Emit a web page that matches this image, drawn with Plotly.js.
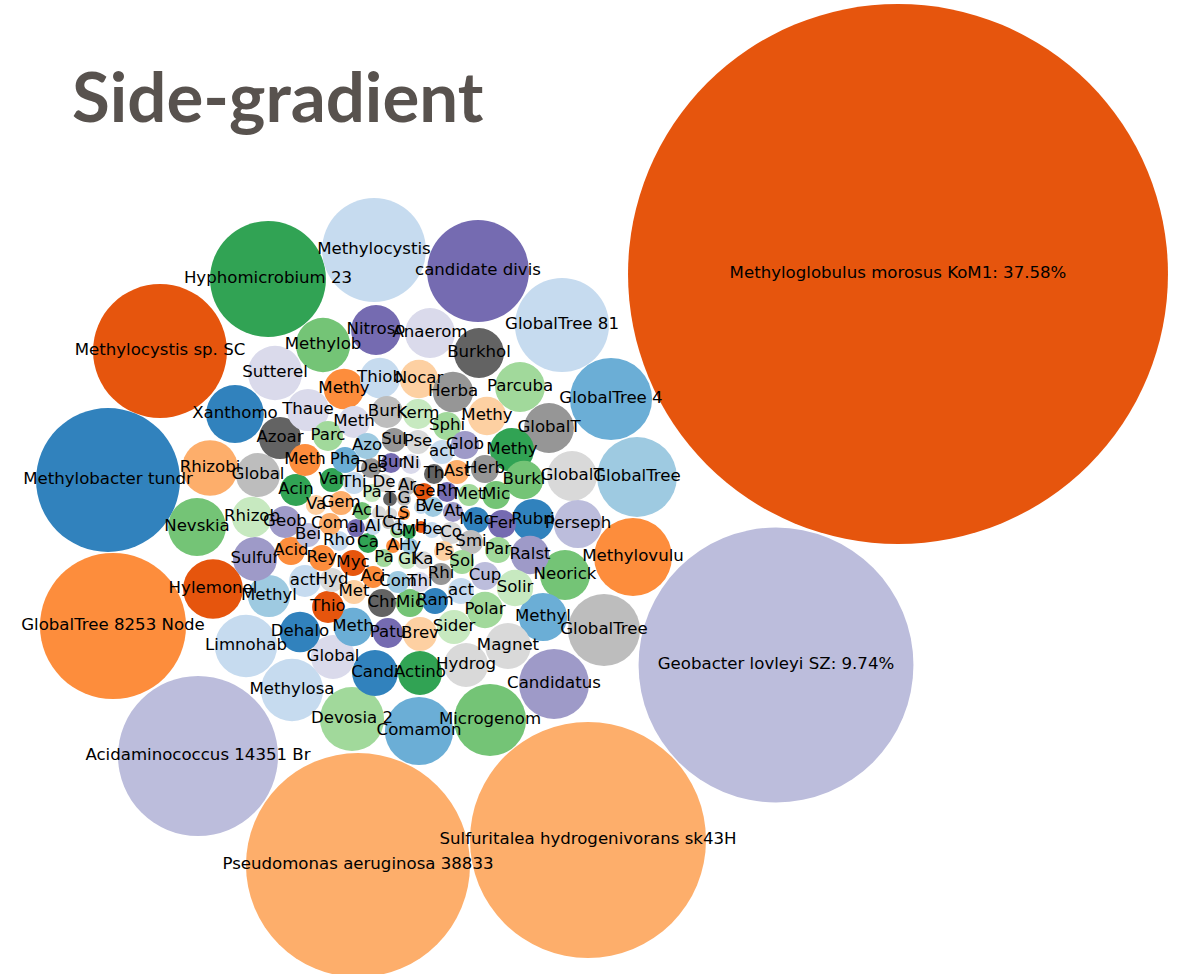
<!DOCTYPE html>
<html><head><meta charset="utf-8">
<script src="https://cdn.plot.ly/plotly-3.0.1.min.js"></script>
<style>html,body{margin:0;padding:0;background:#fff;} #chart{width:1181px;height:974px;}</style>
</head><body><div id="chart"></div>
<script>
// d3 category20c palette
const palette = ["#3182bd","#6baed6","#9ecae1","#c6dbef","#e6550d","#fd8d3c","#fdae6b","#fdd0a2",
  "#31a354","#74c476","#a1d99b","#c7e9c0","#756bb1","#9e9ac8","#bcbddc","#dadaeb",
  "#636363","#969696","#bdbdbd","#d9d9d9"];

const labels = ["Methyloglobulus morosus KoM1: 37.58%","Geobacter lovleyi SZ: 9.74%","Sulfuritalea hydrogenivorans sk43H",
  "Pseudomonas aeruginosa 38833","Acidaminococcus 14351 Br","GlobalTree 8253 Node","Methylobacter tundr",
  "Methylocystis sp. SC","Hyphomicrobium 23","Methylocystis","candidate divis","GlobalTree 81","GlobalTree 4",
  "GlobalTree","Methylovulu","GlobalTree","Candidatus","Microgenom","Comamon","Devosia 2","Methylosa","Limnohab",
  "Hylemonel","Nevskia","Rhizobi","Xanthomo","Sutterel","Methylob","Nitroso","Anaerom","Burkhol","Parcuba",
  "GlobalT","GlobalT","Perseph","Neorick","Methyl","Magnet","Hydrog","Actino","Candi","Global","Dehalo","Methyl",
  "Sulfur","Rhizob","Global","Azoar","Thaue","Methy","Thiob","Nocar","Herba","Methy","Methy","Burkl","Rubri",
  "Ralst","Solir","Polar","Sider","Brev","Patu","Meth","Thio","acti","Acid","Geob","Acin","Meth","Parc","Meth",
  "Burk","Kerm","Sphi","Glob","act","Herb","Ast","Th","Mic","Met","Rh","Ge","Ve","At","Mac","Fer","Par","Smi",
  "Co","Ps","Sol","Rhi","Cup","act","Ram","Mic","Chr","Met","Hyd","Aci","Com","Thi","Myc","Rey","Rho","Ca",
  "Pa","Gl","Ka","A","Hy","G","M","Va","Gem","Ac","L","L","S","B","T","G","Com","Bei","al","Al","C","T","H",
  "be","Des","Bur","Ni","De","Ar","Pa","Var","Thi","Pha","Sul","Pse","Azo"];

const packX = [898,776,588,358,198,113,108,160,268,374,478,562,611,637,633,604,554,490,419,352,292,246,
  213,197,210,235,275,323,376,430,479,520,549,572,578,565,543,508,466,420,375,333,300,269,255,252,258,280,
  308,344,380,419,453,487,512,524,533,530,515,485,454,420,388,353,328,305,291,285,296,305,328,354,387,418,
  447,465,442,485,457,434,496,469,447,424,433,453,476,502,498,471,451,444,462,441,485,461,435,410,382,354,
  332,373,398,420,353,322,339,368,384,407,423,393,410,397,409,316,341,362,379,391,404,421,390,404,330,308,
  356,373,388,399,421,432,371,391,411,384,407,372,332,354,345,394,418,367];

const packY = [274,665,840,865,756,626,480,351,279,250,271,325,399,477,557,630,684,720,731,719,690,646,
  589,527,468,414,373,345,330,333,353,387,428,476,524,575,617,646,665,673,673,657,632,596,559,517,475,438,
  410,389,378,379,392,416,450,480,520,555,588,610,627,634,633,627,607,581,551,522,490,460,436,422,412,414,
  426,445,452,469,472,474,495,495,492,492,507,512,520,524,550,542,533,551,562,574,576,591,601,603,603,592,
  580,577,582,582,563,558,541,543,558,560,560,546,546,531,532,505,503,511,513,514,514,507,499,499,524,535,
  528,527,523,526,527,530,468,463,464,483,486,493,480,483,460,440,442,446];

// relative abundance (%), bubble area proportional to it
const share = [37.58,9.74,7.18,6.47,3.30,2.75,2.67,2.31,1.73,1.39,1.34,1.14,0.87,0.82,0.78,0.67,0.63,0.67,
  0.60,0.53,0.50,0.50,0.46,0.43,0.40,0.43,0.38,0.38,0.32,0.32,0.32,0.32,0.32,0.32,0.30,0.32,0.30,0.27,0.25,
  0.25,0.27,0.25,0.21,0.23,0.25,0.21,0.25,0.23,0.23,0.21,0.21,0.19,0.21,0.19,0.25,0.19,0.23,0.19,0.17,0.17,
  0.15,0.15,0.116,0.19,0.13,0.13,0.101,0.13,0.13,0.13,0.116,0.13,0.13,0.116,0.101,0.101,0.074,0.101,0.074,
  0.052,0.101,0.062,0.052,0.042,0.052,0.052,0.087,0.101,0.087,0.074,0.062,0.052,0.074,0.062,0.101,0.087,
  0.087,0.101,0.101,0.074,0.074,0.062,0.062,0.052,0.087,0.087,0.052,0.052,0.042,0.042,0.042,0.025,0.033,
  0.025,0.025,0.052,0.074,0.042,0.025,0.019,0.019,0.025,0.025,0.025,0.062,0.074,0.042,0.033,0.019,0.019,
  0.019,0.033,0.052,0.052,0.052,0.042,0.042,0.042,0.074,0.062,0.087,0.074,0.074,0.087];

const colorIndex = [4,14,6,6,14,5,0,4,8,3,12,3,1,2,5,18,13,9,1,10,3,3,4,9,6,0,15,9,12,15,16,10,17,19,14,9,
  1,19,19,8,0,15,0,2,13,11,18,16,15,5,3,7,17,7,8,9,0,13,11,10,11,7,12,1,4,3,5,13,8,5,10,15,18,11,10,13,3,
  17,6,16,9,10,12,4,2,13,0,12,10,18,19,7,10,17,14,3,0,9,16,7,19,5,2,15,4,5,3,8,10,11,19,5,2,10,8,7,6,9,19,
  19,5,3,16,18,6,14,12,3,18,3,4,3,17,12,15,19,18,11,8,3,1,17,19,2];

const PX_PER_SQRT_PCT = 44.04;

const trace = {
  type: "scatter",
  mode: "markers+text",
  x: packX,
  y: packY,
  text: labels,
  textposition: "middle center",
  textfont: {family: "DejaVu Sans", size: 16.6, color: "#000000"},
  marker: {
    size: share.map(v => 2 * PX_PER_SQRT_PCT * Math.sqrt(v)),
    sizemode: "diameter",
    color: colorIndex.map(i => palette[i]),
    opacity: 1,
    line: {width: 0}
  },
  hoverinfo: "skip",
  cliponaxis: false
};

const layout = {
  width: 1181, height: 974,
  margin: {l: 0, r: 0, t: 0, b: 0, pad: 0},
  paper_bgcolor: "#ffffff", plot_bgcolor: "#ffffff",
  showlegend: false,
  xaxis: {range: [0, 1181], visible: false, fixedrange: true},
  yaxis: {range: [974, 0], visible: false, fixedrange: true},
  annotations: [{
    text: "<b>Side-gradient</b>",
    xref: "paper", yref: "paper",
    x: 70 / 1181, y: 1 - 95 / 974,
    xanchor: "left", yanchor: "middle",
    showarrow: false,
    font: {family: "Lato", size: 69, color: "#58524e"}
  }]
};

Plotly.newPlot("chart", [trace], layout, {staticPlot: true, displayModeBar: false});
</script></body></html>
